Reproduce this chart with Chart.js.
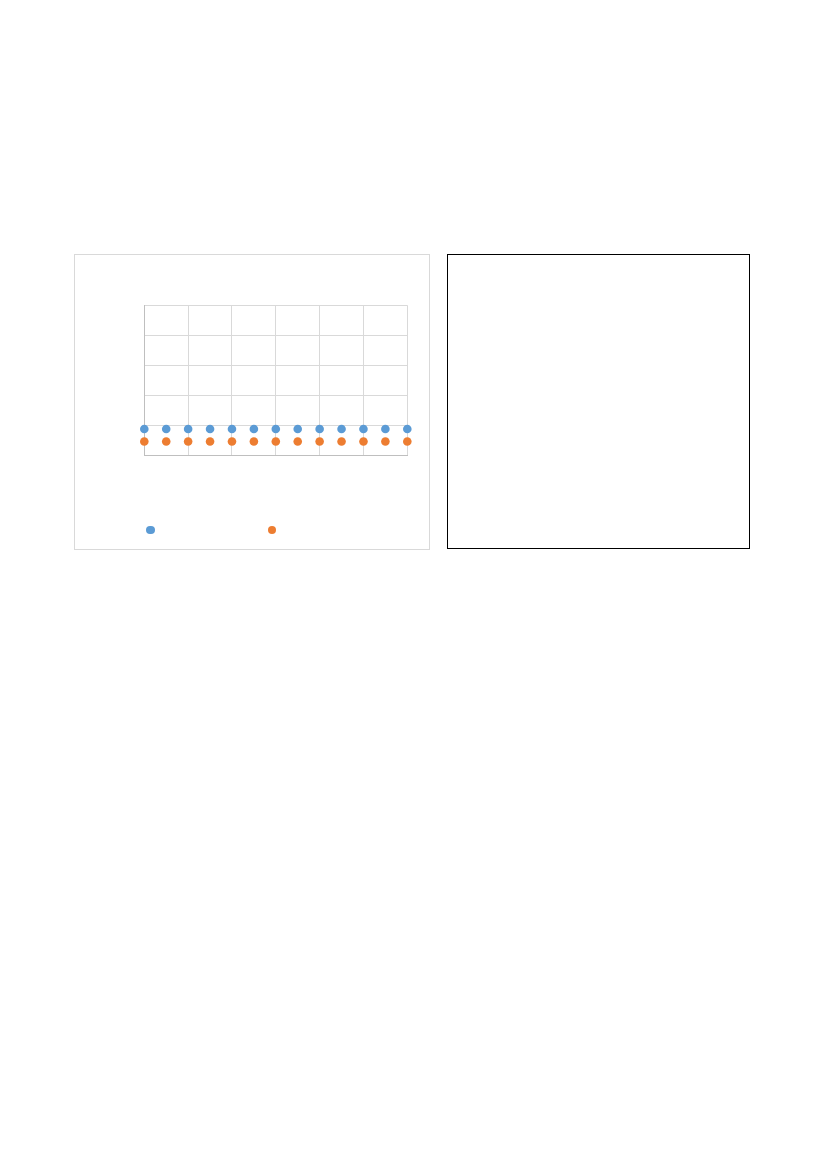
<!DOCTYPE html>
<html>
<head>
<meta charset="utf-8">
<script src="https://cdn.jsdelivr.net/npm/chart.js@4"></script>
<style>
    body { margin: 0; background: #fff; font-family: "Liberation Sans", Arial, sans-serif; }
    #chartBox {
        position: absolute; left: 74px; top: 254px;
        width: 354px; height: 294px;
        border: 1px solid #d9d9d9;
    }
    #sideBox {
        position: absolute; left: 447px; top: 254px;
        width: 301px; height: 293px;
        border: 1px solid #000;
    }
    #legend {
        position: absolute; left: 146px; top: 523px;
        display: flex; align-items: center;
        font-size: 12px; color: #fff;
    }
    #legend .item { display: flex; align-items: center; width: 121.7px; }
    #legend .dot { width: 8.5px; height: 8.5px; border-radius: 50%; margin-right: 6px; }
</style>
</head>
<body>
<div id="chartBox"><canvas id="scatter_chart"></canvas></div>
<div id="legend"></div>
<div id="sideBox"></div>
<script>
const x_values = [0, 1, 2, 3, 4, 5, 6, 7, 8, 9, 10, 11, 12];
const series_names = ['Series1', 'Series2'];
const series1_values = [0.87, 0.87, 0.87, 0.87, 0.87, 0.87, 0.87, 0.87, 0.87, 0.87, 0.87, 0.87, 0.87];
const series2_values = [0.45, 0.45, 0.45, 0.45, 0.45, 0.45, 0.45, 0.45, 0.45, 0.45, 0.45, 0.45, 0.45];
const series_colors = ['#5b9bd5', '#ed7d31'];

// legend is plain html, the text is white like in the original
const legend = document.getElementById('legend');
series_names.forEach((name, i) => {
    const item = document.createElement('div');
    item.className = 'item';
    item.innerHTML = '<span class="dot" style="background:' + series_colors[i] + '"></span><span>' + name + '</span>';
    legend.appendChild(item);
});

function toPoints(values) {
    return values.map((v, i) => ({ x: x_values[i], y: v }));
}

const scatter_chart = document.getElementById('scatter_chart').getContext('2d');
new Chart(scatter_chart, {
    type: 'scatter',
    data: {
        datasets: [{
            label: series_names[0],
            data: toPoints(series1_values),
            backgroundColor: series_colors[0],
            borderColor: series_colors[0],
            pointRadius: 4.3,
            pointBorderWidth: 0,
            clip: false
        }, {
            label: series_names[1],
            data: toPoints(series2_values),
            backgroundColor: series_colors[1],
            borderColor: series_colors[1],
            pointRadius: 4.3,
            pointBorderWidth: 0,
            clip: false
        }]
    },
    options: {
        responsive: true,
        maintainAspectRatio: false,
        animation: false,
        layout: {
            padding: { left: 69.3, right: 21.7, top: 50.3, bottom: 94 }
        },
        plugins: {
            legend: { display: false },
            tooltip: { enabled: false },
            title: { display: false }
        },
        scales: {
            x: {
                min: 0,
                max: 12,
                ticks: { display: false, stepSize: 2 },
                grid: { color: '#d9d9d9', drawTicks: false },
                border: { color: '#bfbfbf' }
            },
            y: {
                min: 0,
                max: 5,
                ticks: { display: false, stepSize: 1 },
                grid: { color: '#d9d9d9', drawTicks: false },
                border: { color: '#bfbfbf' }
            }
        }
    }
});
</script>
</body>
</html>
